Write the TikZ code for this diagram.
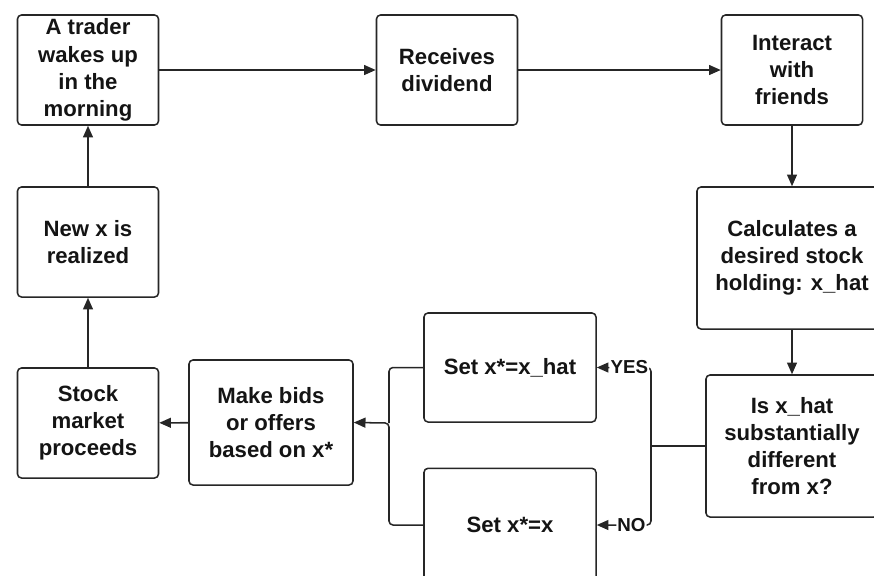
\documentclass[tikz,border=0pt]{standalone}
\usepackage{fontspec}
\setmainfont{Liberation Sans}
\usetikzlibrary{arrows.meta}

\definecolor{inkgray}{HTML}{262626}
\definecolor{textgray}{HTML}{141414}

\tikzset{
  stepbox/.style={draw=inkgray,line width=1.3pt,rounded corners=3.4pt,fill=white,
    align=center,inner sep=0pt,text=textgray,
    font=\fontsize{18.9}{23.2}\selectfont\bfseries,
    minimum width=4.23cm,minimum height=3.3cm},
  flow/.style={draw=inkgray,line width=1.3pt,-{Triangle[length=10pt,width=8.5pt]}},
  plain/.style={draw=inkgray,line width=1.3pt,rounded corners=3.4pt},
  answer/.style={fill=white,inner sep=1pt,text=textgray,
    font=\fontsize{16}{18}\selectfont\bfseries}
}

\begin{document}
\begin{tikzpicture}[x=0.03cm,y=-0.03cm]

  \clip (0,0) rectangle (874,575);
  \useasboundingbox (0,0) rectangle (874,575);

  \node (trader) at (88,70) [stepbox]{A trader\\wakes up\\in the\\morning};
  \node (dividend) at (447,70) [stepbox]{Receives\\dividend};
  \node (friends) at (792,70) [stepbox]{Interact\\with\\friends};
  \node (calc) at (792,258) [stepbox,minimum width=5.7cm,minimum height=4.26cm]{Calculates a\\desired stock\\holding: x\_hat};
  \node (differ) at (792,446) [stepbox,minimum width=5.16cm,minimum height=4.26cm]{Is x\_hat\\substantially\\different\\from x?};
  \node (sethat) at (510,367.5) [stepbox,minimum width=5.16cm,minimum height=3.27cm]{Set x*=x\_hat};
  \node (setx) at (510,525) [stepbox,minimum width=5.16cm,minimum height=3.4cm]{Set x*=x};
  \node (bids) at (271,422.5) [stepbox,minimum width=4.92cm,minimum height=3.75cm]{Make bids\\or offers\\based on x*};
  \node (market) at (88,423) [stepbox]{Stock\\market\\proceeds};
  \node (newx) at (88,242) [stepbox]{New x is\\realized};

  \coordinate (split) at (651,446);
  \coordinate (merge) at (389,423);

  \draw[flow] (trader) -- (dividend);
  \draw[flow] (dividend) -- (friends);
  \draw[flow] (friends) -- (calc);
  \draw[flow] (calc) -- (differ);

  \draw[plain] (differ.west) -- (split);
  \draw[plain,flow] (split) |- node[pos=0.7,answer]{YES} (sethat.east);
  \draw[plain,flow] (split) |- node[pos=0.68,answer]{NO} (setx.east -| sethat.east);

  \draw[plain] (sethat.west) -| (merge);
  \draw[plain,flow] (setx.west) -| (merge) -- (bids.east);

  \draw[flow] (bids) -- (market);
  \draw[flow] (market) -- (newx);
  \draw[flow] (newx) -- (trader);

\end{tikzpicture}
\end{document}
